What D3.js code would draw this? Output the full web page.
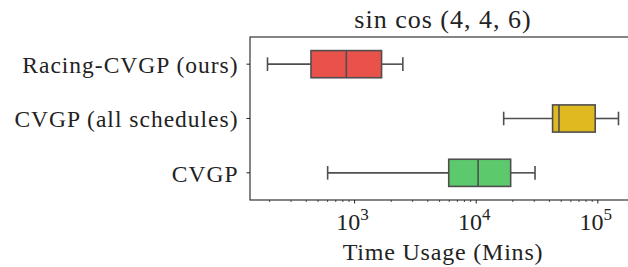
<!DOCTYPE html>
<html>
<head>
<meta charset="utf-8">
<script src="https://cdn.jsdelivr.net/npm/d3@7"></script>
<style>
  body { margin: 0; background: #fff; }
  text { font-family: "Liberation Serif", "DejaVu Serif", serif; fill: #222; }
</style>
</head>
<body>
<svg id="chart"></svg>
<script>
// categories and box stats (minutes)
const methods = ['Racing-CVGP (ours)', 'CVGP (all schedules)', 'CVGP'];
const whiskerLow  = [194, 16980, 606];
const q1          = [442, 42870, 6000];
const medians     = [863, 48390, 10460];
const q3          = [1682, 96100, 19380];
const whiskerHigh = [2516, 149300, 30740];
const boxColors   = ['#e8524a', '#dfb920', '#5dc96d'];
const xTickValues = [1e3, 1e4, 1e5];

const config = {
    width: 628,
    height: 267,
    margin: {top: 37, left: 250, bottom: 67},
    plotRight: 636,
    lineColor: '#4f4f4f'
};

const svg = d3.select('#chart')
    .attr('width', config.width)
    .attr('height', config.height);

const innerBottom = config.height - config.margin.bottom;

const xScale = d3.scaleLog()
    .domain([139.3, 208000])
    .range([config.margin.left, config.plotRight]);

const yScale = d3.scaleBand()
    .domain(methods)
    .range([config.margin.top, innerBottom]);

const boxH = yScale.bandwidth() * 0.5;

const data = methods.map((m, i) => ({
    method: m, lo: whiskerLow[i], q1: q1[i], med: medians[i], q3: q3[i], hi: whiskerHigh[i], color: boxColors[i]
}));

// frame
svg.append('rect')
    .attr('x', config.margin.left)
    .attr('y', config.margin.top)
    .attr('width', config.plotRight - config.margin.left)
    .attr('height', innerBottom - config.margin.top)
    .attr('fill', 'none')
    .attr('stroke', '#222')
    .attr('stroke-width', 1.1);

// x axis: majors labelled, minors unlabelled
const minorTicks = [];
for (let e = 2; e <= 5; e++) {
    for (let k = 2; k <= 9; k++) {
        const v = k * Math.pow(10, e);
        if (v >= xScale.domain()[0] && v <= xScale.domain()[1]) minorTicks.push(v);
    }
}

const xAxisG = svg.append('g')
    .attr('transform', `translate(0,${innerBottom})`);

xAxisG.call(d3.axisBottom(xScale).tickValues(minorTicks).tickSize(2).tickFormat(''))
    .call(g => g.select('.domain').remove())
    .call(g => g.selectAll('line').attr('stroke', '#222').attr('stroke-width', 0.8));

const majorG = svg.append('g')
    .attr('transform', `translate(0,${innerBottom})`);
majorG.call(d3.axisBottom(xScale).tickValues(xTickValues).tickSize(3.5).tickFormat(''))
    .call(g => g.select('.domain').remove())
    .call(g => g.selectAll('line').attr('stroke', '#222').attr('stroke-width', 1));

const majorLabels = majorG.selectAll('.tick').append('text')
    .attr('x', -2)
    .attr('y', 30)
    .attr('text-anchor', 'middle')
    .style('font-size', '24px');
majorLabels.append('tspan').text('10');
majorLabels.append('tspan')
    .attr('dy', -10)
    .style('font-size', '17px')
    .text(d => Math.round(Math.log10(d)));

// y axis
svg.append('g')
    .attr('transform', `translate(${config.margin.left},0)`)
    .call(d3.axisLeft(yScale).tickSize(3.5).tickPadding(8))
    .call(g => g.select('.domain').remove())
    .call(g => g.selectAll('line').attr('stroke', '#222'))
    .call(g => g.selectAll('text')
        .attr('fill', '#222')
        .attr('dy', '0.38em')
        .style('font-family', '"Liberation Serif", serif')
        .style('letter-spacing', '1px')
        .style('font-size', '23.5px'));

// boxes
const boxes = svg.append('g').selectAll('.box')
    .data(data)
    .join('g')
    .attr('class', 'box')
    .attr('transform', d => `translate(0,${yScale(d.method) + yScale.bandwidth() / 2})`);

boxes.append('line')
    .attr('x1', d => xScale(d.lo)).attr('x2', d => xScale(d.q1))
    .attr('stroke', config.lineColor).attr('stroke-width', 1.6);
boxes.append('line')
    .attr('x1', d => xScale(d.q3)).attr('x2', d => xScale(d.hi))
    .attr('stroke', config.lineColor).attr('stroke-width', 1.6);

['lo', 'hi'].forEach(k => {
    boxes.append('line')
        .attr('x1', d => xScale(d[k])).attr('x2', d => xScale(d[k]))
        .attr('y1', -boxH / 4).attr('y2', boxH / 4)
        .attr('stroke', config.lineColor).attr('stroke-width', 1.6);
});

boxes.append('rect')
    .attr('x', d => xScale(d.q1))
    .attr('y', -boxH / 2)
    .attr('width', d => xScale(d.q3) - xScale(d.q1))
    .attr('height', boxH)
    .attr('fill', d => d.color)
    .attr('stroke', config.lineColor)
    .attr('stroke-width', 1.6);

boxes.append('line')
    .attr('x1', d => xScale(d.med)).attr('x2', d => xScale(d.med))
    .attr('y1', -boxH / 2).attr('y2', boxH / 2)
    .attr('stroke', config.lineColor).attr('stroke-width', 1.6);

// titles
svg.append('text')
    .attr('x', 443)
    .attr('y', 28)
    .attr('text-anchor', 'middle')
    .style('font-size', '26px')
    .style('letter-spacing', '1px')
    .text('sin cos (4, 4, 6)');

svg.append('text')
    .attr('x', 443)
    .attr('y', 260)
    .attr('text-anchor', 'middle')
    .style('font-size', '24px')
    .style('letter-spacing', '0.8px')
    .text('Time Usage (Mins)');
</script>
</body>
</html>
